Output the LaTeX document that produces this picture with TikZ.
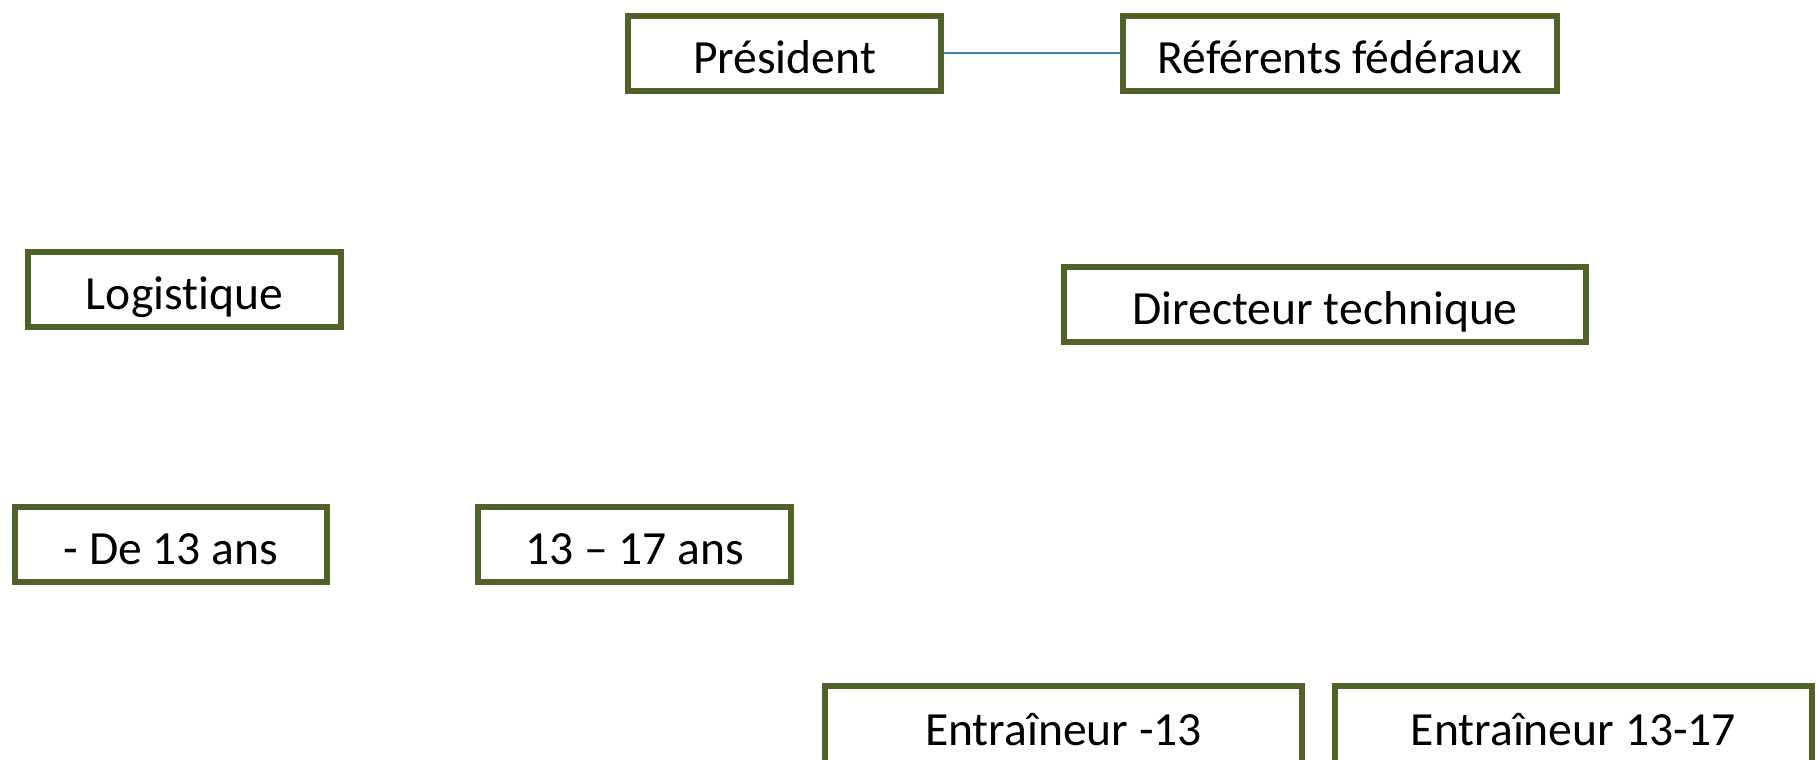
\documentclass[tikz,border=0pt]{standalone}
\usepackage{fontspec}
\setmainfont{Carlito}[Ligatures=NoCommon]
\definecolor{olive}{RGB}{79,98,40}
\definecolor{linkblue}{RGB}{74,126,187}
\begin{document}
\begin{tikzpicture}[x=0.5pt,y=-0.5pt,
  orgbox/.style={draw=olive, line width=3pt, fill=white, inner sep=0pt,
    minimum height=37.5pt, text height=20pt, text depth=0pt,
    font=\fontsize{23.8}{28}\selectfont, text=black},
  link/.style={draw=linkblue, line width=1pt}]
\useasboundingbox (0,0) rectangle (1816,760);
\clip (0,0) rectangle (1816,760);
\fill[white] (0,0) rectangle (1816,760);
\node[orgbox, minimum width=156.5pt] (pres) at (784.5,53) {Président};
\node[orgbox, minimum width=217pt] (ref) at (1340,53) {Référents fédéraux};
\node[orgbox, minimum width=156.5pt] (log) at (184.5,289.5) {Logistique};
\node[orgbox, minimum width=261pt] (dir) at (1325,304.5) {Directeur technique};
\node[orgbox, minimum width=156pt] (moins) at (171,544.5) {- De 13 ans};
\node[orgbox, minimum width=156.5pt] (mid) at (634.5,544.5) {13 – 17 ans};
\node[orgbox, minimum width=238.5pt, minimum height=39.5pt] (e13) at (1063.5,725.5) {Entraîneur -13};
\node[orgbox, minimum width=238.5pt, minimum height=39.5pt] (e1317) at (1573.5,725.5) {Entraîneur 13-17};
\draw[link] (pres.east) -- (ref.west);
\end{tikzpicture}
\end{document}
